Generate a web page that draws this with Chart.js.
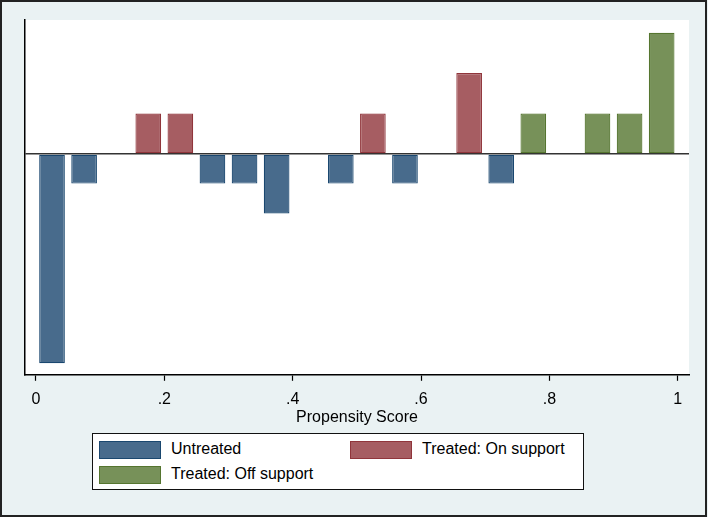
<!DOCTYPE html>
<html>
<head>
<meta charset="utf-8">
<script src="https://cdn.jsdelivr.net/npm/chart.js@4"></script>
<style>
  body { margin: 0; background: #eaf2f3; }
  #wrap { position: relative; width: 708px; height: 517px; }
  #psChart { position: absolute; left: 0; top: 0; }
  #legend { position: absolute; left: 92px; top: 433px; width: 490px; height: 55px; background: #fff; border: 1px solid #111;
            font-family: "Liberation Sans", Arial, sans-serif; font-size: 16px; color: #000; }
  .item { position: absolute; height: 18px; }
  .sw { position: absolute; left: 0; top: 0; width: 60px; height: 16px; }
  .lbl { position: absolute; left: 72px; top: -1px; white-space: nowrap; line-height: 18px; }
</style>
</head>
<body>
<div id="wrap">
  <canvas id="psChart" width="708" height="517"></canvas>
  <div id="legend"></div>
</div>
<script>
// histogram bins (bin centre) and densities
const untreatedX = [0.025, 0.075, 0.275, 0.325, 0.375, 0.475, 0.575, 0.725];
const untreatedY = [-9.4, -1.33, -1.33, -1.33, -2.67, -1.33, -1.33, -1.33];
const onSupportX = [0.175, 0.225, 0.525, 0.675];
const onSupportY = [1.82, 1.82, 1.82, 3.64];
const offSupportX = [0.775, 0.875, 0.925, 0.975];
const offSupportY = [1.82, 1.82, 1.82, 5.45];
const seriesNames = ['Untreated', 'Treated: On support', 'Treated: Off support'];
const xTicks = [0, 0.2, 0.4, 0.6, 0.8, 1];
const xTickLabels = ['0', '.2', '.4', '.6', '.8', '1'];

const fills = ['#486b8c', '#a65d62', '#779159'];
const lines = ['#1a476f', '#90353b', '#55752f'];
const font = "'Liberation Sans', Arial, sans-serif";

function pts(xs, ys) {
    return xs.map((x, i) => ({ x: x, y: ys[i] }));
}

const frame = {
    id: 'frame',
    beforeDraw(chart) {
        const c = chart.ctx;
        c.save();
        c.fillStyle = '#eaf2f3';
        c.fillRect(0, 0, chart.width, chart.height);
        const a = chart.chartArea;
        c.fillStyle = '#ffffff';
        c.fillRect(a.left, a.top, a.right - a.left, a.bottom - a.top);
        c.restore();
    },
    afterDraw(chart) {
        const c = chart.ctx;
        c.save();
        c.strokeStyle = '#222';
        c.lineWidth = 2;
        c.strokeRect(1, 1, chart.width - 3, chart.height - 2);
        c.restore();
    }
};

const allX = [untreatedX, onSupportX, offSupportX];
const allY = [untreatedY, onSupportY, offSupportY];

new Chart(document.getElementById('psChart'), {
    type: 'bar',
    data: {
        datasets: seriesNames.map((name, i) => ({
            label: name,
            data: pts(allX[i], allY[i]),
            backgroundColor: fills[i],
            borderColor: lines[i],
            borderWidth: 1.2,
            borderSkipped: false,
            barPercentage: 0.8,
            categoryPercentage: 1.0,
            grouped: false
        }))
    },
    options: {
        responsive: false,
        animation: false,
        layout: { padding: { left: 25, right: 19, top: 20, bottom: 90 } },
        plugins: { legend: { display: false }, tooltip: { enabled: false } },
        scales: {
            x: {
                type: 'linear',
                offset: false,
                min: -0.0171,
                max: 1.0176,
                afterBuildTicks: (axis) => { axis.ticks = xTicks.map(v => ({ value: v })); },
                ticks: {
                    color: '#000',
                    padding: 11,
                    maxRotation: 0,
                    font: { family: font, size: 16, lineHeight: 1 },
                    callback: (v) => xTickLabels[xTicks.indexOf(v)]
                },
                grid: { offset: false, drawOnChartArea: false, drawTicks: true, tickLength: 6, tickColor: '#000', tickWidth: 1.2 },
                border: { color: '#000', width: 1.5 },
                title: {
                    display: true,
                    text: 'Propensity Score',
                    color: '#000',
                    padding: { top: -11, bottom: 0 },
                    font: { family: font, size: 16 }
                }
            },
            y: {
                min: -9.92,
                max: 6.02,
                afterBuildTicks: (axis) => { axis.ticks = [{ value: 0 }]; },
                ticks: { display: false },
                grid: { drawTicks: false, color: '#333', lineWidth: 1.5 },
                border: { color: '#000', width: 1.5 }
            }
        }
    },
    plugins: [frame]
});

// legend box, two columns like the original
const legendPos = [[6, 7], [257, 7], [6, 32]];
const leg = document.getElementById('legend');
seriesNames.forEach((name, i) => {
    const it = document.createElement('div');
    it.className = 'item';
    it.style.left = legendPos[i][0] + 'px';
    it.style.top = legendPos[i][1] + 'px';
    it.innerHTML = '<div class="sw" style="background:' + fills[i] + ';border:1px solid ' + lines[i] + '"></div>' +
        '<div class="lbl">' + name + '</div>';
    leg.appendChild(it);
});
</script>
</body>
</html>
